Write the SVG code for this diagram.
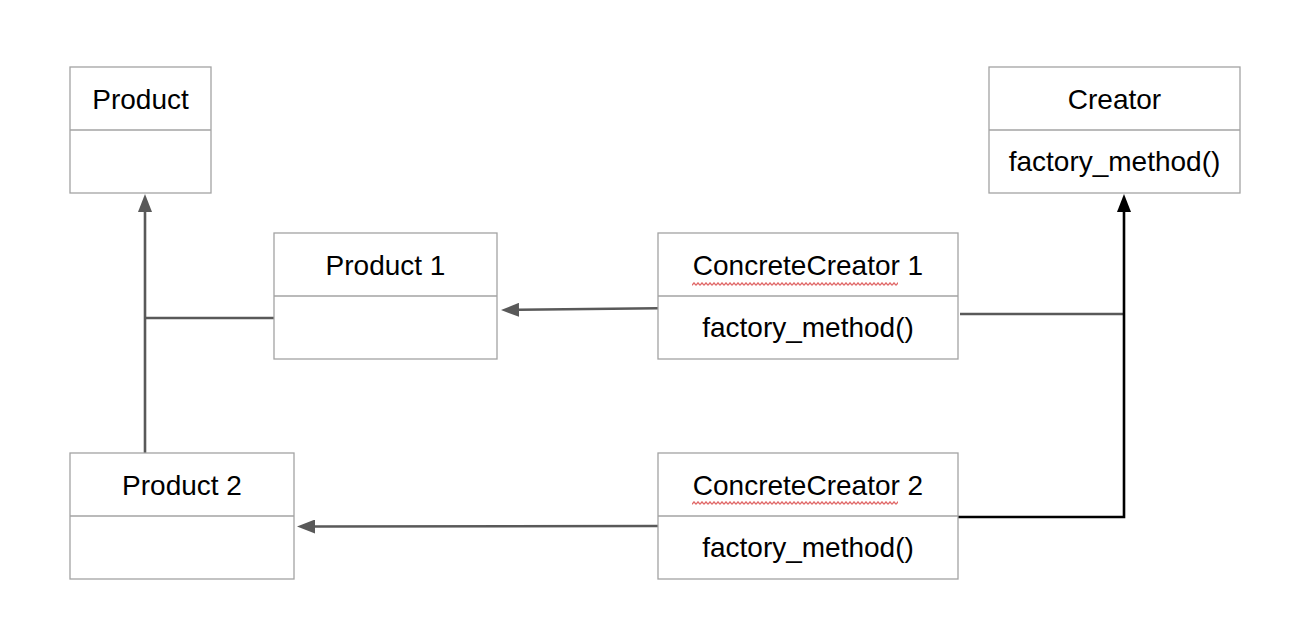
<svg xmlns="http://www.w3.org/2000/svg" width="1314" height="642" viewBox="0 0 1314 642">
  <style>
    .box { fill: #ffffff; stroke: #a3a3a3; stroke-width: 1.3; }
    .div { stroke: #a3a3a3; stroke-width: 1.3; }
    .t { font-family: "Liberation Sans", Arial, sans-serif; font-size: 28px; fill: #000000; text-anchor: middle; }
    .c { fill: none; stroke: #595959; stroke-width: 2.6; }
    .cb { fill: none; stroke: #000000; stroke-width: 2.6; }
  </style>
  <defs>
    <marker id="ah" markerUnits="userSpaceOnUse" markerWidth="18" markerHeight="14" viewBox="0 0 18 14" refX="0" refY="7" orient="auto">
      <path d="M0,0 L18,7 L0,14 z" fill="#595959"/>
    </marker>
    <marker id="ahb" markerUnits="userSpaceOnUse" markerWidth="18" markerHeight="14" viewBox="0 0 18 14" refX="0" refY="7" orient="auto">
      <path d="M0,0 L18,7 L0,14 z" fill="#000000"/>
    </marker>
    <pattern id="sq1" patternUnits="userSpaceOnUse" x="692" y="282" width="4" height="4">
      <path d="M0,3.3 L2,0.9 L4,3.3" fill="none" stroke="#e06666" stroke-width="1.3"/>
    </pattern>
    <pattern id="sq2" patternUnits="userSpaceOnUse" x="692" y="501" width="4" height="4">
      <path d="M0,3.3 L2,0.9 L4,3.3" fill="none" stroke="#e06666" stroke-width="1.3"/>
    </pattern>
  </defs>

  <rect width="1314" height="642" fill="#ffffff"/>

  <g id="connectors">
    <path class="c" d="M145,453 L145,212" marker-end="url(#ah)"/>
    <path class="c" d="M145,318 L275,318"/>
    <path class="c" d="M658,308.2 L519,309.8" marker-end="url(#ah)"/>
    <path class="c" d="M658,526 L315,526.5" marker-end="url(#ah)"/>
    <path class="c" d="M960,314 L1125,314"/>
    <path class="cb" d="M957,517 L1124,517 L1124,212" marker-end="url(#ahb)"/>
  </g>

  <g id="product">
    <rect class="box" x="70" y="67" width="141" height="126"/>
    <line class="div" x1="70" y1="130" x2="211" y2="130"/>
    <text class="t" x="140.5" y="108.5">Product</text>
  </g>

  <g id="creator">
    <rect class="box" x="989" y="67" width="251" height="126"/>
    <line class="div" x1="989" y1="130" x2="1240" y2="130"/>
    <text class="t" x="1114.5" y="108.5">Creator</text>
    <text class="t" x="1114.5" y="171">factory_method()</text>
  </g>

  <g id="product1">
    <rect class="box" x="274" y="233" width="223" height="126"/>
    <line class="div" x1="274" y1="296" x2="497" y2="296"/>
    <text class="t" x="385.5" y="274.5">Product 1</text>
  </g>

  <g id="concretecreator1">
    <rect class="box" x="658" y="233" width="300" height="126"/>
    <line class="div" x1="658" y1="296" x2="958" y2="296"/>
    <text class="t" x="808" y="274.5">ConcreteCreator 1</text>
    <rect x="692" y="282" width="206" height="4" fill="url(#sq1)"/>
    <text class="t" x="808" y="337">factory_method()</text>
  </g>

  <g id="product2">
    <rect class="box" x="70" y="453" width="224" height="126"/>
    <line class="div" x1="70" y1="516" x2="294" y2="516"/>
    <text class="t" x="182" y="494.5">Product 2</text>
  </g>

  <g id="concretecreator2">
    <rect class="box" x="658" y="453" width="300" height="126"/>
    <line class="div" x1="658" y1="516" x2="958" y2="516"/>
    <text class="t" x="808" y="494.5">ConcreteCreator 2</text>
    <rect x="692" y="501" width="206" height="4" fill="url(#sq2)"/>
    <text class="t" x="808" y="557">factory_method()</text>
  </g>
</svg>
